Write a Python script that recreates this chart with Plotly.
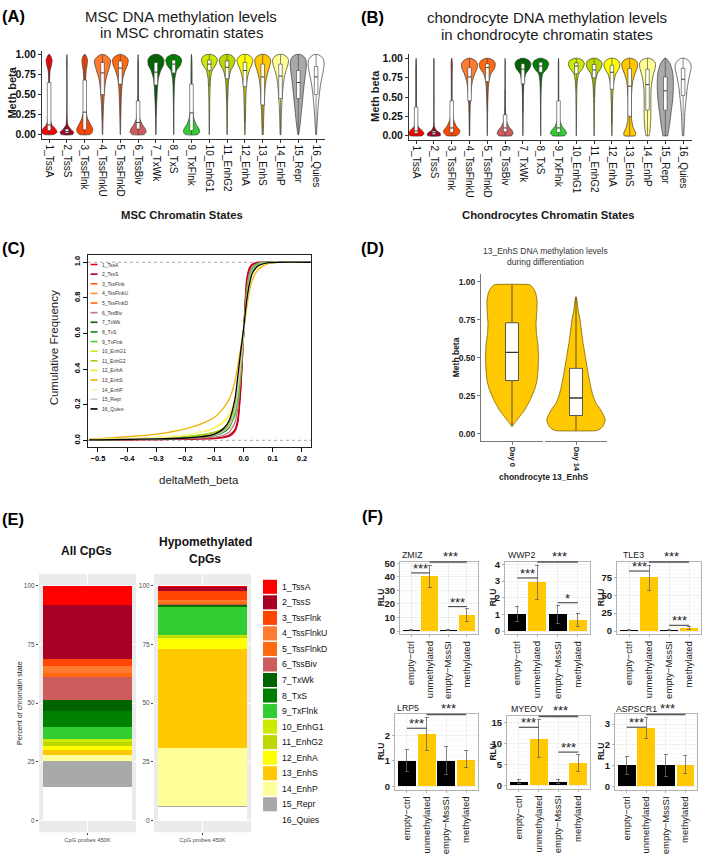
import plotly.graph_objects as go

W, H = 709, 854
FONT = "Liberation Sans, Arial, Helvetica, sans-serif"

# ---------------- shared categories ----------------
STATES = ["1_TssA", "2_TssS", "3_TssFlnk", "4_TssFlnkU", "5_TssFlnkD", "6_TssBiv",
          "7_TxWk", "8_TxS", "9_TxFlnk", "10_EnhG1", "11_EnhG2", "12_EnhA",
          "13_EnhS", "14_EnhP", "15_Repr", "16_Quies"]
STATE_COLORS = ["#FF0000", "#A80024", "#FF4500", "#FF7A2E", "#FF6A10", "#CD5C5C",
                "#006400", "#008000", "#32CD32", "#CDEB00", "#BDD800", "#FFFF00",
                "#FFC800", "#FFFF99", "#A9A9A9", "#FFFFFF"]
CDF_COLORS = ["#E8001C", "#B00020", "#FF5A1F", "#FF8A3D", "#FF6A10", "#C9737A",
              "#0B5E0B", "#128A12", "#4CCB3A", "#C9EA1A", "#A8CC10", "#F2EE20",
              "#F0B000", "#FFF7A8", "#C8C8C8", "#000000"]

# ---------------- panels A / B : violin profiles ----------------
VIOLIN_GRID = [0.0, 0.03, 0.07, 0.12, 0.2, 0.3, 0.4, 0.5, 0.6, 0.7, 0.8, 0.87, 0.93, 0.97, 1.0]
MSC_DENSITY = [
    [0.55, 1.0, 0.8, 0.35, 0.12, 0.06, 0.05, 0.05, 0.05, 0.06, 0.12, 0.3, 0.38, 0.25, 0.05],
    [0.7, 0.85, 0.45, 0.12, 0.04, 0.02, 0.02, 0.02, 0.02, 0.02, 0.02, 0.03, 0.03, 0.02, 0.0],
    [0.6, 0.95, 1.0, 0.75, 0.35, 0.15, 0.1, 0.09, 0.1, 0.12, 0.18, 0.3, 0.35, 0.25, 0.05],
    [0.02, 0.03, 0.04, 0.05, 0.07, 0.1, 0.15, 0.22, 0.3, 0.45, 0.75, 0.95, 1.0, 0.7, 0.2],
    [0.02, 0.02, 0.03, 0.04, 0.05, 0.07, 0.1, 0.14, 0.2, 0.32, 0.6, 0.9, 1.0, 0.75, 0.2],
    [0.7, 1.0, 0.9, 0.55, 0.2, 0.08, 0.05, 0.04, 0.03, 0.03, 0.03, 0.03, 0.03, 0.02, 0.0],
    [0.02, 0.02, 0.02, 0.03, 0.04, 0.06, 0.1, 0.15, 0.2, 0.3, 0.6, 0.95, 1.0, 0.8, 0.3],
    [0.01, 0.01, 0.01, 0.02, 0.02, 0.03, 0.04, 0.06, 0.08, 0.15, 0.35, 0.85, 1.0, 0.8, 0.2],
    [0.75, 1.0, 0.95, 0.6, 0.3, 0.15, 0.1, 0.08, 0.07, 0.07, 0.07, 0.06, 0.05, 0.03, 0.0],
    [0.02, 0.02, 0.02, 0.02, 0.03, 0.04, 0.05, 0.07, 0.1, 0.15, 0.35, 0.8, 1.0, 0.85, 0.3],
    [0.02, 0.02, 0.02, 0.03, 0.04, 0.05, 0.07, 0.1, 0.14, 0.22, 0.45, 0.85, 1.0, 0.8, 0.3],
    [0.03, 0.03, 0.04, 0.05, 0.06, 0.08, 0.1, 0.13, 0.18, 0.3, 0.55, 0.85, 1.0, 0.8, 0.3],
    [0.06, 0.07, 0.08, 0.1, 0.12, 0.15, 0.2, 0.25, 0.32, 0.45, 0.7, 0.92, 1.0, 0.8, 0.3],
    [0.05, 0.06, 0.07, 0.08, 0.1, 0.13, 0.18, 0.24, 0.32, 0.45, 0.7, 0.92, 1.0, 0.8, 0.3],
    [0.05, 0.1, 0.15, 0.22, 0.3, 0.4, 0.5, 0.6, 0.7, 0.82, 0.95, 1.0, 0.95, 0.75, 0.3],
    [0.04, 0.06, 0.08, 0.12, 0.16, 0.22, 0.3, 0.4, 0.52, 0.7, 0.9, 1.0, 0.95, 0.7, 0.2],
]
# [lower whisker, q1, median, q3, upper whisker]
MSC_BOX = [
    [0.0, 0.05, 0.12, 0.65, 1.0], [0.0, 0.02, 0.04, 0.07, 0.13], [0.0, 0.06, 0.28, 0.68, 1.0],
    [0.17, 0.5, 0.77, 0.9, 1.0], [0.2, 0.63, 0.83, 0.92, 1.0], [0.0, 0.07, 0.15, 0.42, 0.93],
    [0.24, 0.62, 0.78, 0.9, 1.0], [0.55, 0.77, 0.88, 0.93, 1.0], [0.0, 0.05, 0.27, 0.63, 1.0],
    [0.6, 0.8, 0.88, 0.93, 1.0], [0.42, 0.7, 0.84, 0.92, 1.0], [0.15, 0.6, 0.8, 0.9, 1.0],
    [0.0, 0.37, 0.72, 0.88, 1.0], [0.0, 0.45, 0.73, 0.88, 1.0], [0.0, 0.45, 0.65, 0.8, 1.0],
    [0.0, 0.5, 0.72, 0.85, 1.0],
]
CHON_DENSITY = [
    [0.75, 1.0, 0.7, 0.25, 0.08, 0.04, 0.03, 0.03, 0.03, 0.03, 0.03, 0.04, 0.04, 0.03, 0.0],
    [0.8, 0.8, 0.3, 0.06, 0.02, 0.02, 0.02, 0.02, 0.02, 0.02, 0.02, 0.02, 0.02, 0.02, 0.0],
    [0.6, 0.95, 1.0, 0.6, 0.25, 0.1, 0.06, 0.05, 0.05, 0.05, 0.06, 0.08, 0.08, 0.05, 0.0],
    [0.02, 0.03, 0.03, 0.04, 0.05, 0.07, 0.1, 0.15, 0.22, 0.35, 0.65, 0.95, 1.0, 0.75, 0.2],
    [0.01, 0.01, 0.02, 0.02, 0.03, 0.04, 0.05, 0.08, 0.12, 0.2, 0.45, 0.9, 1.0, 0.8, 0.2],
    [0.8, 1.0, 0.85, 0.45, 0.15, 0.06, 0.04, 0.03, 0.03, 0.03, 0.03, 0.03, 0.03, 0.02, 0.0],
    [0.01, 0.01, 0.01, 0.02, 0.02, 0.03, 0.04, 0.05, 0.08, 0.14, 0.35, 0.85, 1.0, 0.8, 0.2],
    [0.01, 0.01, 0.01, 0.01, 0.02, 0.02, 0.03, 0.04, 0.06, 0.1, 0.25, 0.8, 1.0, 0.8, 0.2],
    [0.75, 1.0, 0.85, 0.45, 0.15, 0.06, 0.04, 0.03, 0.03, 0.03, 0.03, 0.03, 0.03, 0.02, 0.0],
    [0.01, 0.01, 0.01, 0.02, 0.02, 0.03, 0.04, 0.05, 0.07, 0.12, 0.3, 0.8, 1.0, 0.85, 0.25],
    [0.02, 0.02, 0.02, 0.03, 0.03, 0.04, 0.05, 0.07, 0.1, 0.18, 0.4, 0.85, 1.0, 0.8, 0.25],
    [0.02, 0.02, 0.03, 0.03, 0.04, 0.05, 0.07, 0.1, 0.14, 0.24, 0.5, 0.9, 1.0, 0.8, 0.25],
    [0.7, 0.75, 0.6, 0.4, 0.25, 0.2, 0.2, 0.22, 0.27, 0.38, 0.65, 0.92, 1.0, 0.8, 0.25],
    [0.2, 0.25, 0.3, 0.35, 0.4, 0.42, 0.42, 0.42, 0.45, 0.55, 0.75, 0.95, 1.0, 0.8, 0.25],
    [0.3, 0.35, 0.42, 0.5, 0.6, 0.72, 0.85, 0.95, 1.0, 1.0, 0.95, 0.8, 0.6, 0.35, 0.1],
    [0.08, 0.1, 0.12, 0.15, 0.18, 0.22, 0.3, 0.4, 0.5, 0.65, 0.85, 1.0, 0.95, 0.7, 0.2],
]
CHON_BOX = [
    [0.0, 0.03, 0.06, 0.37, 0.88], [0.0, 0.02, 0.04, 0.06, 0.12], [0.0, 0.04, 0.1, 0.45, 1.0],
    [0.0, 0.45, 0.76, 0.88, 1.0], [0.35, 0.7, 0.88, 0.93, 1.0], [0.0, 0.05, 0.1, 0.27, 0.6],
    [0.3, 0.67, 0.86, 0.93, 1.0], [0.6, 0.82, 0.9, 0.95, 1.0], [0.0, 0.04, 0.1, 0.45, 1.0],
    [0.6, 0.8, 0.9, 0.94, 1.0], [0.5, 0.75, 0.85, 0.92, 1.0], [0.15, 0.6, 0.82, 0.91, 1.0],
    [0.0, 0.25, 0.64, 0.87, 1.0], [0.0, 0.33, 0.66, 0.86, 1.0], [0.0, 0.33, 0.58, 0.76, 1.0],
    [0.0, 0.52, 0.73, 0.87, 1.0],
]
BETA_TICKS = [0.0, 0.25, 0.5, 0.75, 1.0]
BETA_TICKTEXT = ["0.00", "0.25", "0.50", "0.75", "1.00"]

# ---------------- panel C : cumulative distributions ----------------
DELTA_X = [-0.53, -0.5, -0.4, -0.3, -0.2, -0.15, -0.1, -0.07, -0.05, -0.03, -0.02, -0.01,
           0.0, 0.01, 0.02, 0.03, 0.05, 0.08, 0.12, 0.23]
CDF_VALUES = [
    [0.002, 0.002, 0.003, 0.004, 0.006, 0.008, 0.01, 0.015, 0.022, 0.05, 0.1, 0.28, 0.6, 0.9, 0.97, 0.99, 1, 1, 1, 1],
    [0.002, 0.002, 0.003, 0.004, 0.006, 0.008, 0.012, 0.018, 0.028, 0.06, 0.12, 0.3, 0.6, 0.88, 0.96, 0.985, 0.998, 1, 1, 1],
    [0.003, 0.003, 0.005, 0.008, 0.012, 0.017, 0.03, 0.05, 0.08, 0.17, 0.28, 0.44, 0.62, 0.8, 0.9, 0.95, 0.985, 0.998, 1, 1],
    [0.003, 0.003, 0.005, 0.008, 0.014, 0.02, 0.035, 0.06, 0.09, 0.18, 0.29, 0.45, 0.62, 0.79, 0.89, 0.945, 0.985, 0.998, 1, 1],
    [0.003, 0.003, 0.005, 0.008, 0.013, 0.019, 0.033, 0.055, 0.085, 0.17, 0.28, 0.44, 0.62, 0.8, 0.9, 0.95, 0.985, 0.998, 1, 1],
    [0.002, 0.002, 0.004, 0.006, 0.009, 0.012, 0.018, 0.028, 0.045, 0.1, 0.18, 0.36, 0.6, 0.84, 0.94, 0.975, 0.995, 1, 1, 1],
    [0.003, 0.003, 0.005, 0.008, 0.013, 0.018, 0.03, 0.05, 0.08, 0.17, 0.28, 0.44, 0.61, 0.79, 0.9, 0.95, 0.985, 0.998, 1, 1],
    [0.003, 0.003, 0.005, 0.008, 0.013, 0.018, 0.028, 0.045, 0.07, 0.15, 0.26, 0.43, 0.61, 0.8, 0.91, 0.955, 0.99, 0.999, 1, 1],
    [0.004, 0.005, 0.008, 0.012, 0.02, 0.03, 0.045, 0.06, 0.08, 0.14, 0.22, 0.38, 0.6, 0.82, 0.92, 0.965, 0.992, 1, 1, 1],
    [0.004, 0.005, 0.008, 0.012, 0.02, 0.028, 0.045, 0.065, 0.095, 0.18, 0.28, 0.44, 0.61, 0.78, 0.88, 0.94, 0.98, 0.997, 1, 1],
    [0.004, 0.005, 0.008, 0.012, 0.02, 0.028, 0.045, 0.066, 0.095, 0.18, 0.28, 0.44, 0.61, 0.78, 0.88, 0.94, 0.98, 0.997, 1, 1],
    [0.005, 0.006, 0.01, 0.016, 0.03, 0.045, 0.07, 0.1, 0.14, 0.23, 0.32, 0.46, 0.62, 0.77, 0.87, 0.93, 0.975, 0.995, 1, 1],
    [0.008, 0.01, 0.02, 0.035, 0.065, 0.09, 0.13, 0.18, 0.23, 0.33, 0.42, 0.52, 0.62, 0.74, 0.84, 0.9, 0.96, 0.99, 0.999, 1],
    [0.005, 0.006, 0.01, 0.016, 0.03, 0.045, 0.075, 0.11, 0.15, 0.24, 0.33, 0.47, 0.62, 0.77, 0.87, 0.93, 0.975, 0.995, 1, 1],
    [0.003, 0.003, 0.005, 0.008, 0.013, 0.018, 0.03, 0.05, 0.08, 0.17, 0.28, 0.44, 0.61, 0.79, 0.9, 0.95, 0.985, 0.998, 1, 1],
    [0.003, 0.003, 0.005, 0.008, 0.013, 0.019, 0.035, 0.065, 0.11, 0.23, 0.36, 0.5, 0.63, 0.78, 0.88, 0.94, 0.98, 0.997, 1, 1],
]
CDF_LEGEND = STATES

# ---------------- panel D : 13_EnhS during differentiation ----------------
DAYS = ["Day 0", "Day 14"]
DAY0_Y = [0.05, 0.07, 0.09, 0.12, 0.15, 0.2, 0.25, 0.3, 0.35, 0.42, 0.5, 0.58, 0.66,
          0.72, 0.77, 0.83, 0.88, 0.93, 0.96, 0.98]
DAY0_DENSITY = [0.5, 2.5, 5, 8.5, 12, 16.5, 20, 23, 25, 26, 26.5, 26, 24.5, 24, 24.5,
                25, 25, 23.5, 21, 18]
DAY14_Y = [0.02, 0.03, 0.05, 0.08, 0.1, 0.13, 0.16, 0.2, 0.25, 0.3, 0.4, 0.5, 0.6, 0.7,
           0.75, 0.8, 0.85, 0.9]
DAY14_DENSITY = [20, 24, 27, 29, 29, 27, 24.5, 20, 17, 15, 12, 9.5, 7, 5, 4, 2.5, 1.5, 0.3]
DAY_BOX = [[0.05, 0.35, 0.535, 0.73, 0.98], [0.02, 0.12, 0.235, 0.43, 0.9]]

# ---------------- panel E : chromatin state composition (%) ----------------
PCT_ALL = [8.4, 22.9, 3.1, 2.8, 1.7, 9.6, 4.8, 7.0, 4.8, 1.7, 1.4, 1.7, 2.1, 2.8, 11.0, 14.2]
PCT_HYPO = [0.6, 1.8, 3.5, 1.0, 1.1, 0.3, 0.3, 0.5, 11.9, 0.6, 0.7, 4.8, 42.0, 24.7, 0.4, 5.8]

# ---------------- panel F : luciferase assays ----------------
GENES = ["ZMIZ", "WWP2", "TLE3", "LRP5", "MYEOV", "ASPSCR1"]
CONDITIONS = ["empty\u2212ctrl", "unmethylated", "empty\u2212MssSI", "methylated"]
COND_COLORS = ["#000000", "#FFC800", "#000000", "#FFC800"]
RLU_MEAN = [[1, 40.5, 1, 12], [1, 2.95, 1, 0.65], [1, 75, 1, 4.5],
            [1, 2.05, 1, 1.05], [0.9, 11, 0.9, 5.3], [1, 2.8, 1, 1.03]]
RLU_LOW = [[0.7, 32, 0.7, 7], [0.55, 1.9, 0.45, 0.25], [0.5, 57, 0.4, 2],
           [0.57, 1.4, 0.45, 0.72], [0.5, 6.7, 0.5, 3.3], [0.55, 2.3, 0.45, 0.6]]
RLU_HIGH = [[1.3, 48.5, 1.3, 16.5], [1.45, 3.95, 1.55, 1.07], [1.5, 92, 1.5, 7],
            [1.45, 2.7, 1.55, 1.42], [1.4, 15.6, 1.5, 7.3], [1.45, 3.3, 1.55, 1.47]]
RLU_DTICK = [10, 1, 25, 1, 5, 1]
SIG_12 = [("***", 42.9), ("***", 3.19), ("***", 84), ("***", 2.29), ("***", 13.8), ("***", 2.85)]
SIG_34 = [("***", 18), ("*", 1.7), ("***", 8), None, ("***", 7.9), None]
SIG_TOP = ["***"] * 6

# ---------------- helpers ----------------
def xd(a, b):
    return [a / W, b / W]

def yd(top, bottom):
    return [1 - bottom / H, 1 - top / H]

def px(x):
    return x / W

def py(y):
    return 1 - y / H

fig = go.Figure()
annotations = []
shapes = []

def text(x, y, s, size, color="#1a1a1a", bold=False, angle=0, xanchor="center", yanchor="middle"):
    annotations.append(dict(x=px(x), y=py(y), xref="paper", yref="paper",
                            text=("<b>%s</b>" % s) if bold else s, showarrow=False,
                            font=dict(size=size, color=color, family=FONT), textangle=angle,
                            xanchor=xanchor, yanchor=yanchor))

def add_violin(center, ys, ws, half, color, xa, ya, outline="#333333", lw=0.7, smooth=0.5):
    xr = [center + half * w for w in ws]
    xl = [center - half * w for w in ws[::-1]]
    fig.add_trace(go.Scatter(x=xr + xl + [xr[0]], y=list(ys) + list(ys[::-1]) + [ys[0]],
                             mode="lines", fill="toself", fillcolor=color,
                             line=dict(color=outline, width=lw, shape="spline", smoothing=smooth),
                             xaxis=xa, yaxis=ya, hoverinfo="skip", showlegend=False))

def add_box(center, stats, width, xa, ya, lc="#333333", lw=0.7, mw=1.2):
    lo, q1, med, q3, hi = stats
    a, b = center - width / 2, center + width / 2
    fig.add_trace(go.Scatter(x=[center, center, None, center, center], y=[lo, q1, None, q3, hi],
                             mode="lines", line=dict(color=lc, width=lw), xaxis=xa, yaxis=ya,
                             hoverinfo="skip", showlegend=False))
    fig.add_trace(go.Scatter(x=[a, b, b, a, a], y=[q1, q1, q3, q3, q1], mode="lines", fill="toself",
                             fillcolor="white", line=dict(color=lc, width=lw), xaxis=xa, yaxis=ya,
                             hoverinfo="skip", showlegend=False))
    fig.add_trace(go.Scatter(x=[a, b], y=[med, med], mode="lines", line=dict(color=lc, width=mw),
                             xaxis=xa, yaxis=ya, hoverinfo="skip", showlegend=False))

layout = dict(width=W, height=H, margin=dict(l=0, r=0, t=0, b=0), paper_bgcolor="white",
              plot_bgcolor="white", showlegend=False, barmode="stack",
              font=dict(family=FONT, color="#1a1a1a"))

# ---------------- panels A and B ----------------
for xa, ya, dens, box, xdomain, ydomain in (
        ("x", "y", MSC_DENSITY, MSC_BOX, xd(42, 325), yd(47, 136)),
        ("x2", "y2", CHON_DENSITY, CHON_BOX, xd(409, 692), yd(51, 137))):
    for i in range(16):
        add_violin(i + 1, VIOLIN_GRID, dens[i], 0.45, STATE_COLORS[i], xa, ya)
        add_box(i + 1, box[i], 0.2, xa, ya, lc="#3a3a3a", lw=0.6, mw=1.0)
    xkey = "xaxis" if xa == "x" else "xaxis2"
    ykey = "yaxis" if ya == "y" else "yaxis2"
    layout[xkey] = dict(domain=xdomain, range=[0.6, 16.5], type="linear", anchor=ya,
                        tickvals=list(range(1, 17)), ticktext=STATES, tickangle=90,
                        tickfont=dict(size=10, color="#111111"), ticks="outside", ticklen=3,
                        tickcolor="#333333", showline=True, linecolor="#333333", linewidth=1,
                        showgrid=False, zeroline=False)
    layout[ykey] = dict(domain=ydomain, range=[-0.05, 1.05], anchor=xa, tickvals=BETA_TICKS,
                        ticktext=BETA_TICKTEXT, tickfont=dict(size=10.5, color="#111111", weight="bold"),
                        ticks="outside", ticklen=3, tickcolor="#333333", showline=True,
                        linecolor="#333333", linewidth=1, showgrid=False, zeroline=False)

text(13, 12, "(A)", 16.5, "#000", bold=True)
text(373, 13, "(B)", 16.5, "#000", bold=True)
text(181, 13, "MSC DNA methylation levels", 15)
text(181, 29, "in MSC chromatin states", 15)
text(547, 14, "chondrocyte DNA methylation levels", 15)
text(547, 30.5, "in chondrocyte chromatin states", 15)
text(12.5, 90, "Meth beta", 11, bold=True, angle=-90)
text(375, 93, "Meth beta", 11, bold=True, angle=-90)
text(182, 213, "MSC Chromatin States", 11.3, bold=True)
text(548, 213, "Chondrocytes Chromatin States", 11.3, bold=True)

# ---------------- panel C ----------------
for i in range(16):
    fig.add_trace(go.Scatter(x=DELTA_X, y=CDF_VALUES[i], mode="lines",
                             line=dict(color=CDF_COLORS[i], width=1.3, shape="spline", smoothing=0.6),
                             xaxis="x3", yaxis="y3", hoverinfo="skip", showlegend=False))
layout["xaxis3"] = dict(domain=xd(88, 311), range=[-0.534, 0.231], anchor="y3",
                        tickvals=[-0.5, -0.4, -0.3, -0.2, -0.1, 0.0, 0.1, 0.2],
                        ticktext=["\u22120.5", "\u22120.4", "\u22120.3", "\u22120.2", "\u22120.1", "0.0", "0.1", "0.2"],
                        tickfont=dict(size=7.5, color="#000", weight="bold"), ticks="outside", ticklen=4,
                        tickcolor="#000", showline=True, mirror=True, linecolor="#222", linewidth=1,
                        showgrid=False, zeroline=False)
layout["yaxis3"] = dict(domain=yd(254, 448), range=[-0.039, 1.039], anchor="x3",
                        tickvals=[0, 0.2, 0.4, 0.6, 0.8, 1.0],
                        ticktext=["0.0", "0.2", "0.4", "0.6", "0.8", "1.0"], tickangle=-90,
                        tickfont=dict(size=7.5, color="#000", weight="bold"), ticks="outside", ticklen=4,
                        tickcolor="#000", showline=True, mirror=True, linecolor="#222", linewidth=1,
                        showgrid=False, zeroline=False)
for yv in (0, 1):
    shapes.append(dict(type="line", xref="x3 domain", yref="y3", x0=0, x1=1, y0=yv, y1=yv,
                       line=dict(color="#AAAAAA", width=1, dash="dot"), layer="below"))
for i, name in enumerate(CDF_LEGEND):
    yy = 263.3 + i * 9.73
    shapes.append(dict(type="line", xref="paper", yref="paper", x0=px(90.5), x1=px(97.5),
                       y0=py(yy), y1=py(yy), line=dict(color=CDF_COLORS[i], width=1.6)))
    text(100, yy, name, 5, "#333", xanchor="left")
text(13, 247, "(C)", 16.5, "#000", bold=True)
text(54, 348, "Cumulative Frequency", 11.5, "#222", angle=-90)
text(199, 481, "deltaMeth_beta", 11.5, "#222")

# ---------------- panel D ----------------
D_PX_PER_UNIT = 62 / 1.2
add_violin(1, DAY0_Y, DAY0_DENSITY, 1 / D_PX_PER_UNIT, "#FFC800", "x4", "y4", outline="#7A6400", lw=0.8, smooth=0.3)
add_box(1, DAY_BOX[0], 0.25, "x4", "y4", lc="#333333", lw=0.8, mw=1.3)
add_violin(1, DAY14_Y, DAY14_DENSITY, 1 / D_PX_PER_UNIT, "#FFC800", "x5", "y4", outline="#7A6400", lw=0.8, smooth=0.3)
add_box(1, DAY_BOX[1], 0.25, "x5", "y4", lc="#333333", lw=0.8, mw=1.3)
for key, dom, label in (("xaxis4", xd(481, 543), DAYS[0]), ("xaxis5", xd(545, 607), DAYS[1])):
    layout[key] = dict(domain=dom, range=[0.4, 1.6], type="linear", anchor="y4", tickvals=[1],
                       ticktext=[label], tickangle=90, tickfont=dict(size=7.5, color="#222", weight="bold"),
                       ticks="outside", ticklen=3, tickcolor="#777", showline=True, linecolor="#777",
                       linewidth=1, showgrid=False, zeroline=False)
layout["yaxis4"] = dict(domain=yd(273, 442), range=[-0.05, 1.05], anchor="x4", tickvals=BETA_TICKS,
                        ticktext=BETA_TICKTEXT, tickfont=dict(size=8.5, color="#222", weight="bold"),
                        ticks="outside", ticklen=3, tickcolor="#777", showline=True, linecolor="#777",
                        linewidth=1, showgrid=False, zeroline=False)
text(373, 247, "(D)", 16.5, "#000", bold=True)
text(545, 250, "13_EnhS DNA methylation levels", 8.5, "#333")
text(545, 260.5, "during differentiation", 8.5, "#333")
text(456, 357, "Meth beta", 8.5, "#222", bold=True, angle=-90)
text(544, 478, "chondrocyte 13_EnhS", 8.5, "#222", bold=True)

# ---------------- panel E ----------------
for i in range(15, -1, -1):
    fig.add_trace(go.Bar(x=[1], y=[PCT_ALL[i]], width=1.0, marker=dict(color=STATE_COLORS[i], line=dict(width=0)),
                         xaxis="x6", yaxis="y6", hoverinfo="skip", showlegend=False))
    fig.add_trace(go.Bar(x=[1], y=[PCT_HYPO[i]], width=1.0, marker=dict(color=STATE_COLORS[i], line=dict(width=0)),
                         xaxis="x7", yaxis="y7", hoverinfo="skip", showlegend=False))
for xk, yk, xa, ya, dom in (("xaxis6", "yaxis6", "x6", "y6", xd(39, 136)),
                            ("xaxis7", "yaxis7", "x7", "y7", xd(154, 251))):
    layout[xk] = dict(domain=dom, range=[0.45, 1.55], type="linear", anchor=ya, tickvals=[1],
                      ticktext=["CpG probes 450K"], tickfont=dict(size=5.8, color="#4D4D4D"),
                      ticks="outside", ticklen=2, tickcolor="#444", showline=False, showgrid=True,
                      gridcolor="white", gridwidth=1, zeroline=False)
    layout[yk] = dict(domain=yd(576, 837), range=[-5, 105], anchor=xa, tickvals=[0, 25, 50, 75, 100],
                      tickfont=dict(size=6.5, color="#4D4D4D"), ticks="outside", ticklen=2,
                      tickcolor="#444", showline=False, showgrid=True, gridcolor="white",
                      gridwidth=1, zeroline=False)
    shapes.append(dict(type="rect", xref=xa + " domain", yref=ya + " domain", x0=0, x1=1, y0=0, y1=1,
                       fillcolor="#EBEBEB", line=dict(width=0), layer="below"))
for i, name in enumerate(STATES):
    yc = 589 + i * 15.7
    shapes.append(dict(type="rect", xref="paper", yref="paper", x0=px(263), x1=px(277),
                       y0=py(yc + 7.1), y1=py(yc - 7.1), fillcolor=STATE_COLORS[i], line=dict(width=0)))
    text(279.5, yc, name, 8.7, "#111", xanchor="left")
text(13, 520, "(E)", 16.5, "#000", bold=True)
text(86, 553, "All CpGs", 12, "#111", bold=True)
text(205, 544, "Hypomethylated", 12, "#111", bold=True)
text(205, 561, "CpGs", 12, "#111", bold=True)
text(19.5, 707, "Percent of chromatin state", 7.2, "#222", angle=-90)

# ---------------- panel F ----------------
F_BOXES = [(400, 478, 564, 637), (505, 590, 564, 637), (617, 701, 564, 637),
           (395, 478, 718, 794), (507, 590, 720, 793), (615, 697, 718, 794)]
F_TITLE_POS = [(400, 557), (506, 557), (621, 557), (395, 712), (509, 713), (614, 713)]
F_RLU_X = [381, 493, 601, 381, 493, 601]
for g in range(6):
    n = 8 + g
    xa, ya = "x%d" % n, "y%d" % n
    mean, low, high = RLU_MEAN[g], RLU_LOW[g], RLU_HIGH[g]
    fig.add_trace(go.Bar(x=[1, 2, 3, 4], y=mean, width=0.9,
                         marker=dict(color=COND_COLORS, line=dict(width=0)),
                         error_y=dict(type="data", array=[h - m for h, m in zip(high, mean)],
                                      arrayminus=[m - l for m, l in zip(mean, low)],
                                      color="#666666", thickness=0.8, width=2),
                         xaxis=xa, yaxis=ya, hoverinfo="skip", showlegend=False))
    top = max(high)
    l, r, t, b = F_BOXES[g]
    layout["xaxis%d" % n] = dict(domain=xd(l, r), range=[0.4, 4.6], type="linear", anchor=ya,
                                 tickvals=[1, 2, 3, 4], ticktext=CONDITIONS, tickangle=-90,
                                 tickfont=dict(size=9.5, color="#1a1a1a"), ticks="outside", ticklen=2,
                                 tickcolor="#B3B3B3", showline=True, mirror=True, linecolor="#B3B3B3",
                                 linewidth=1, showgrid=True, gridcolor="#EBEBEB", gridwidth=0.8,
                                 zeroline=False)
    layout["yaxis%d" % n] = dict(domain=yd(t, b), range=[-0.05 * top, 1.05 * top], anchor=xa,
                                 dtick=RLU_DTICK[g], tick0=0,
                                 tickfont=dict(size=9.5, color="#1a1a1a", weight="bold"),
                                 ticks="outside", ticklen=2, tickcolor="#B3B3B3", showline=True,
                                 mirror=True, linecolor="#B3B3B3", linewidth=1, showgrid=True,
                                 gridcolor="#EBEBEB", gridwidth=0.8, zeroline=False,
                                 minor=dict(showgrid=True, gridcolor="#F5F5F5", gridwidth=0.6))
    s12 = SIG_12[g]
    shapes.append(dict(type="line", xref=xa, yref=ya, x0=1, x1=2, y0=s12[1], y1=s12[1],
                       line=dict(color="#333", width=1)))
    annotations.append(dict(x=1.5, y=s12[1], xref=xa, yref=ya, text=s12[0], showarrow=False,
                            yanchor="bottom", yshift=-5, font=dict(size=13, color="#222", family=FONT)))
    s34 = SIG_34[g]
    if s34 is not None:
        shapes.append(dict(type="line", xref=xa, yref=ya, x0=3, x1=4, y0=s34[1], y1=s34[1],
                           line=dict(color="#333", width=1)))
        annotations.append(dict(x=3.5, y=s34[1], xref=xa, yref=ya, text=s34[0], showarrow=False,
                                yanchor="bottom", yshift=-5, font=dict(size=13, color="#222", family=FONT)))
    shapes.append(dict(type="line", xref=xa, yref=ya + " domain", x0=2, x1=4, y0=1, y1=1,
                       line=dict(color="#555", width=1.6)))
    annotations.append(dict(x=3, y=1, xref=xa, yref=ya + " domain", text=SIG_TOP[g], showarrow=False,
                            yanchor="bottom", yshift=-4, xshift=2,
                            font=dict(size=13, color="#222", family=FONT)))
    tx, ty = F_TITLE_POS[g]
    text(tx, ty, GENES[g], 8.8, "#1a1a1a", xanchor="left")
    text(F_RLU_X[g], (t + b) / 2, "RLU", 8.5, "#1a1a1a", bold=True, angle=-90)
text(372, 517, "(F)", 16.5, "#000", bold=True)

layout["annotations"] = annotations
layout["shapes"] = shapes
fig.update_layout(**layout)
fig.write_html("out.html", config={"displayModeBar": False, "staticPlot": True},
               post_script="document.body.style.margin='0';document.body.style.overflow='hidden';")
